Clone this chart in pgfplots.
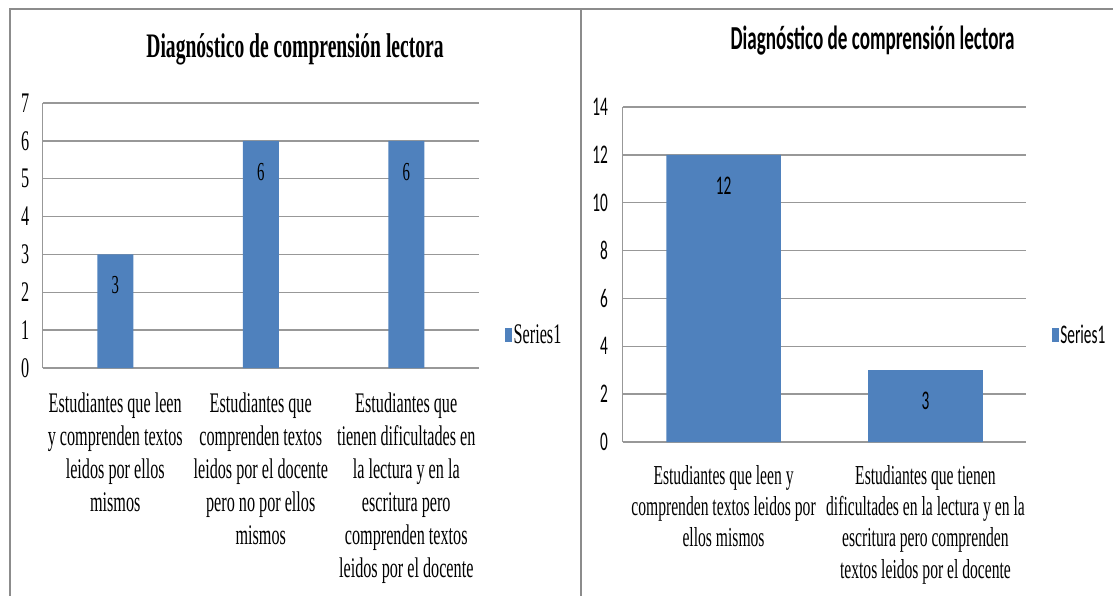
\documentclass[border=0pt]{standalone}
\usepackage{pgfplots}
\pgfplotsset{compat=1.18}
\usepackage{fontspec}
\setmainfont{Liberation Serif}
\newfontfamily\tnr[FakeStretch=0.57]{Liberation Serif}
\newfontfamily\calib[FakeStretch=0.57]{Carlito}
\definecolor{barblue}{HTML}{4F81BD}
\definecolor{gridc}{HTML}{989898}
\definecolor{framec}{HTML}{8C8C8C}
\begin{document}
\begin{tikzpicture}[x=1bp,y=1bp]
\path[use as bounding box] (0,0) rectangle (1113,-596);
\draw[framec, line width=2bp] (9.5,-596) -- (9.5,-9.5) -- (1113,-9.5);
\draw[framec, line width=2bp] (581,-596) -- (581,-9.5);

\begin{axis}[
  at={(42.5bp,-368bp)}, anchor=south west,
  scale only axis, width=436.5bp, height=265bp,
  ybar, bar width=36bp,
  xmin=-0.5, xmax=2.5, ymin=0, ymax=7,
  ytick={0,1,...,7}, xtick={0,1,2},
  xticklabels={{Estudiantes que leen\\y comprenden textos\\leidos por ellos\\mismos},
    {Estudiantes que\\comprenden textos\\leidos por el docente\\pero no por ellos\\mismos},
    {Estudiantes que\\tienen dificultades en\\la lectura y en la\\escritura pero\\comprenden textos\\leidos por el docente}},
  axis x line=bottom, axis y line=left,
  axis line style={gridc, line width=1.5bp, -},
  ymajorgrids, grid style={gridc, line width=1.5bp},
  major tick length=0pt,
  /pgf/number format/assume math mode=true,
  yticklabel style={font=\tnr\fontsize{28.5}{33}\selectfont, inner sep=0pt, xshift=-13bp},
  xticklabel style={font=\tnr\fontsize{28.5}{33}\selectfont, inner sep=0pt, yshift=-25bp, align=center},
  title={Diagnóstico de comprensión lectora},
  title style={at={(0.5785,1)}, anchor=base, yshift=40bp, inner sep=0pt, font=\tnr\bfseries\fontsize{34.5}{40}\selectfont},
  legend style={at={(1.0596,0.1245)}, anchor=west, draw=none, fill=none, inner sep=0pt, nodes={inner sep=1.5bp}, font=\tnr\fontsize{28.5}{33}\selectfont},
  legend image code/.code={\fill[barblue] (0bp,-7bp) rectangle (7bp,7bp);},
  nodes near coords,
  every node near coord/.append style={anchor=center, yshift=-31bp, font=\tnr\fontsize{26}{30}\selectfont, text=black},
]
\addplot[fill=barblue, draw=none] coordinates {(0,3) (1,6) (2,6)};
\addlegendentry{Series1}
\end{axis}

\begin{axis}[
  at={(622.6bp,-442bp)}, anchor=south west,
  scale only axis, width=403.8bp, height=335bp,
  ybar, bar width=114.6bp,
  xmin=-0.5, xmax=1.5, ymin=0, ymax=14,
  ytick={0,2,...,14}, xtick={0,1},
  xticklabels={{Estudiantes que leen y\\comprenden textos leidos por\\ellos mismos},
    {Estudiantes que tienen\\dificultades en la lectura y en la\\escritura pero comprenden\\textos leidos por el docente}},
  axis x line=bottom, axis y line=left,
  axis line style={gridc, line width=1.5bp, -},
  ymajorgrids, grid style={gridc, line width=1.5bp},
  major tick length=0pt,
  /pgf/number format/assume math mode=true,
  yticklabel style={font=\calib\fontsize{27}{32}\selectfont, inner sep=0pt, xshift=-14.6bp},
  xticklabel style={font=\tnr\fontsize{27.5}{31.5}\selectfont, inner sep=0pt, yshift=-23bp, align=center},
  title={Diagnóstico de comprensión lectora},
  title style={at={(0.619,1)}, anchor=base, yshift=52bp, inner sep=0pt, font=\calib\bfseries\fontsize{33.7}{40}\selectfont},
  legend style={at={(1.062,0.319)}, anchor=west, draw=none, fill=none, inner sep=0pt, nodes={inner sep=1.5bp}, font=\calib\fontsize{27}{32}\selectfont},
  legend image code/.code={\fill[barblue] (0bp,-7bp) rectangle (7.3bp,7bp);},
  nodes near coords,
  every node near coord/.append style={anchor=center, yshift=-31bp, font=\calib\fontsize{27}{32}\selectfont, text=black},
]
\addplot[fill=barblue, draw=none] coordinates {(0,12) (1,3)};
\addlegendentry{Series1}
\end{axis}
\end{tikzpicture}
\end{document}
